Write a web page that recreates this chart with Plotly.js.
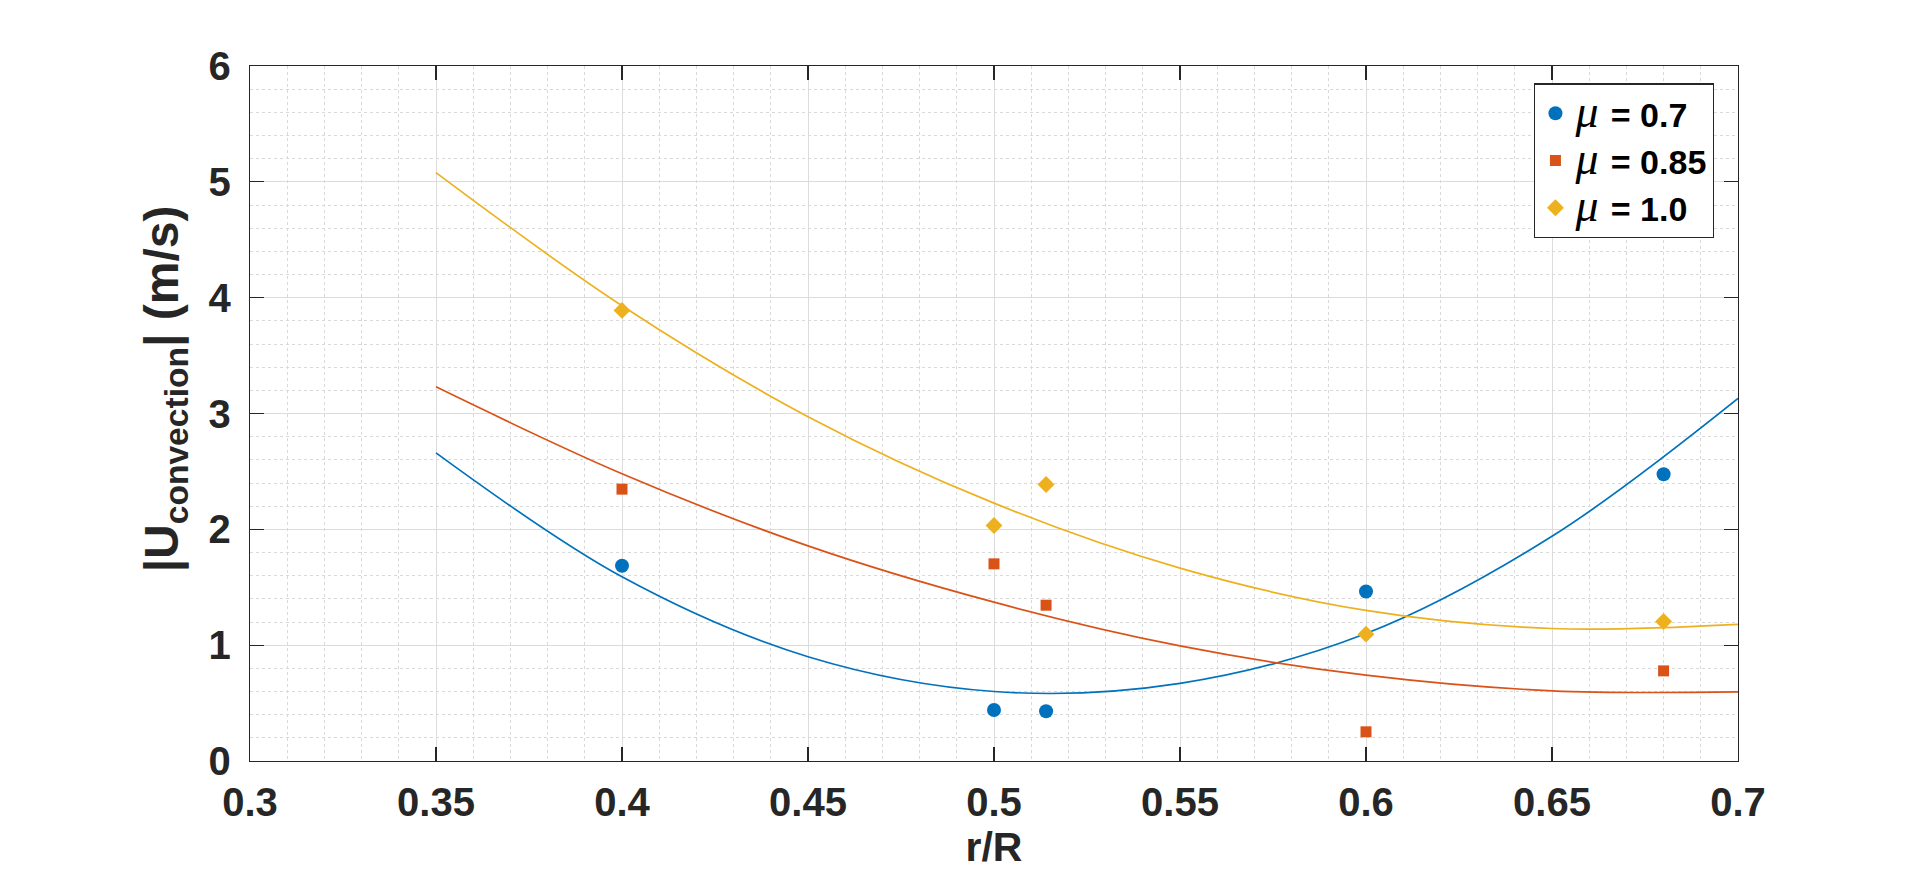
<!DOCTYPE html>
<html>
<head>
<meta charset="utf-8">
<script src="https://cdn.plot.ly/plotly-3.0.1.min.js"></script>
<style>
html,body{margin:0;padding:0;background:#fff;}
#chart{width:1920px;height:879px;}
</style>
</head>
<body>
<div id="chart"></div>
<script>
// measured points
const rR = [0.4, 0.5, 0.514, 0.6, 0.68];
const mu07 = [1.685, 0.44, 0.43, 1.463, 2.476];
const mu085 = [2.347, 1.702, 1.345, 0.252, 0.778];
const mu10 = [3.89, 2.033, 2.387, 1.095, 1.204];
// fitted curves
const fitX = [0.35, 0.40, 0.45, 0.50, 0.55, 0.60, 0.65, 0.70];
const fit07 = [2.66, 1.59, 0.90, 0.60, 0.67, 1.10, 1.94, 3.13];
const fit085 = [3.23, 2.48, 1.857, 1.371, 0.994, 0.741, 0.606, 0.597];
const fit10 = [5.08, 3.93, 2.973, 2.226, 1.665, 1.30, 1.144, 1.18];
// ticks
const xTickVals = [0.3, 0.35, 0.4, 0.45, 0.5, 0.55, 0.6, 0.65, 0.7];
const xTickText = ['0.3', '0.35', '0.4', '0.45', '0.5', '0.55', '0.6', '0.65', '0.7'];
const yTickVals = [0, 1, 2, 3, 4, 5, 6];
const yTickText = ['0', '1', '2', '3', '4', '5', '6'];
const legendNames = ['0.7', '0.85', '1.0'];

const colors = ['#0072BD', '#D95319', '#EDB120'];
const mu = '<span style="font-family:\'Liberation Serif\',serif;font-style:italic;font-weight:normal;font-size:46px">μ</span>';

const traces = [
  {x: fitX, y: fit07, mode: 'lines', line: {color: colors[0], width: 1.7, shape: 'spline', smoothing: 1}, showlegend: false, hoverinfo: 'skip'},
  {x: fitX, y: fit085, mode: 'lines', line: {color: colors[1], width: 1.7, shape: 'spline', smoothing: 1}, showlegend: false, hoverinfo: 'skip'},
  {x: fitX, y: fit10, mode: 'lines', line: {color: colors[2], width: 1.7, shape: 'spline', smoothing: 1}, showlegend: false, hoverinfo: 'skip'},
  {x: rR, y: mu07, mode: 'markers', name: mu + ' \u200A= ' + legendNames[0], marker: {symbol: 'circle', size: 14, color: colors[0]}},
  {x: rR, y: mu085, mode: 'markers', name: mu + ' \u200A= ' + legendNames[1], marker: {symbol: 'square', size: 11, color: colors[1]}},
  {x: rR, y: mu10, mode: 'markers', name: mu + ' \u200A= ' + legendNames[2], marker: {symbol: 'diamond', size: 13, color: colors[2]}}
];

const axisCommon = {
  showline: true, linecolor: '#262626', linewidth: 1.3, mirror: 'ticks',
  ticks: 'inside', ticklen: 14, tickwidth: 1.2, tickcolor: '#262626',
  showgrid: true, gridcolor: '#dcdcdc', gridwidth: 1,
  zeroline: false,
  tickfont: {family: 'Liberation Sans, Arial, sans-serif', size: 40, color: '#262626', weight: 'bold'},
  automargin: false
};

const layout = {
  width: 1920, height: 879,
  paper_bgcolor: '#ffffff', plot_bgcolor: '#ffffff',
  margin: {l: 250, r: 182, t: 66, b: 118, pad: 0},
  font: {family: 'Liberation Sans, Arial, sans-serif', color: '#262626'},
  xaxis: Object.assign({}, axisCommon, {
    range: [0.3, 0.7], tickmode: 'array', tickvals: xTickVals, ticktext: xTickText,
    ticklabelstandoff: 6,
    minor: {dtick: 0.01, tick0: 0.3, showgrid: true, gridcolor: '#d9d9d9', griddash: 'dot', gridwidth: 1, ticks: ''},
    title: {text: '<b>r/R</b>', font: {size: 41, color: '#262626', family: 'Liberation Sans, Arial, sans-serif'}, standoff: 4}
  }),
  yaxis: Object.assign({}, axisCommon, {
    range: [0, 6], tickmode: 'array', tickvals: yTickVals, ticktext: yTickText,
    ticklabelstandoff: 10,
    minor: {dtick: 0.2, tick0: 0, showgrid: true, gridcolor: '#d9d9d9', griddash: 'dot', gridwidth: 1, ticks: ''}
  }),
  annotations: [{
    text: '<b>|U<sub>convection</sub>| (m/s)</b>',
    xref: 'paper', yref: 'paper', x: -0.057, y: 0.535,
    xanchor: 'center', yanchor: 'middle', textangle: -90, showarrow: false,
    font: {size: 48, color: '#262626', family: 'Liberation Sans, Arial, sans-serif'}
  }],
  legend: {
    x: 0.863, y: 0.975, xanchor: 'left', yanchor: 'top',
    bgcolor: '#ffffff', bordercolor: '#262626', borderwidth: 1.3,
    font: {family: 'Liberation Sans, Arial, sans-serif', size: 34, color: '#000000', weight: 'bold'},
    itemwidth: 30
  },
  showlegend: true
};

Plotly.newPlot('chart', traces, layout, {staticPlot: true, displayModeBar: false});
</script>
</body>
</html>
